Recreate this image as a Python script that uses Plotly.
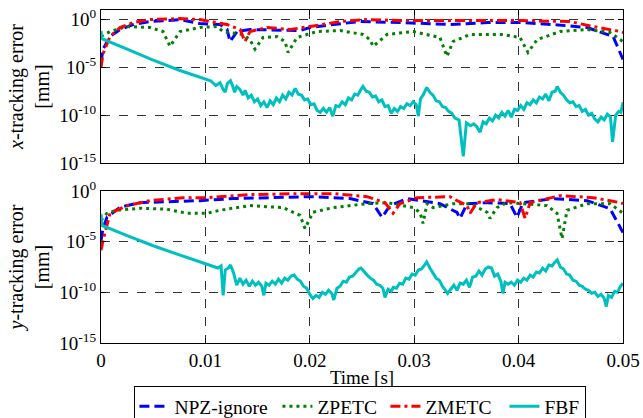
import plotly.graph_objects as go

# ---------------- data (time in s, error given as log10 of value in mm) ----------------
# Top panel: x-tracking error
x_npz_t = [0, 0.00019, 0.00086, 0.00182, 0.00307, 0.00469, 0.00632, 0.00757, 0.00948, 0.0114, 0.01207, 0.01236, 0.01303, 0.01427, 0.01906, 0.02002, 0.02222, 0.02481, 0.02864, 0.03343, 0.03698, 0.04014, 0.0433, 0.04656, 0.04905, 0.05]
x_npz_log = [-4.5, -3.1, -1.77, -1.04, -0.52, -0.21, -0.1, 0.0, -0.42, -0.52, -1.0, -2.3, -1.25, -1.04, -1.15, -0.83, -0.52, -0.21, -0.31, -0.52, -0.31, -0.31, -0.52, -0.83, -1.77, -4.17]

x_zme_t = [0, 0.00019, 0.00086, 0.00182, 0.00307, 0.00469, 0.00757, 0.00948, 0.01207, 0.01332, 0.01379, 0.01427, 0.0159, 0.0181, 0.02002, 0.0229, 0.02548, 0.02864, 0.03343, 0.04014, 0.04493, 0.04713, 0.04972, 0.05]
x_zme_log = [-5.0, -3.6, -1.77, -0.83, -0.31, 0.0, 0.1, 0.0, -0.52, -1.04, -2.3, -1.25, -0.83, -1.04, -0.73, -0.21, 0.0, -0.1, -0.1, -0.1, -0.21, -0.73, -1.25, -1.35]

x_zpe_t = [0, 0.00086, 0.00249, 0.00469, 0.00594, 0.00661, 0.00757, 0.00948, 0.01111, 0.01169, 0.0136, 0.01427, 0.01475, 0.01552, 0.01686, 0.01763, 0.01791, 0.01877, 0.02069, 0.0229, 0.0251, 0.02577, 0.02606, 0.0274, 0.02989, 0.03247, 0.03314, 0.03372, 0.03535, 0.03851, 0.04014, 0.0409, 0.04177, 0.04397, 0.04656, 0.04876, 0.05]
x_zpe_log = [-1.77, -1.25, -0.73, -0.83, -1.25, -2.8, -1.25, -0.83, -0.73, -1.25, -1.56, -2.1, -3.1, -1.88, -1.77, -2.3, -3.44, -1.88, -1.25, -1.15, -1.56, -2.1, -2.8, -1.56, -1.25, -1.88, -3.85, -2.3, -1.56, -1.56, -1.88, -3.44, -2.1, -1.25, -1.04, -1.35, -2.3]

x_fbf_t = [0, 0.0001, 0.0025, 0.005, 0.0075, 0.0095, 0.0105, 0.011, 0.0114, 0.0117, 0.0119, 0.0121, 0.0124, 0.0126, 0.0128, 0.013, 0.0133, 0.0136, 0.0138, 0.0141, 0.0144, 0.0147, 0.015, 0.0153, 0.0156, 0.0159, 0.0162, 0.0165, 0.0168, 0.0171, 0.0174, 0.0177, 0.018, 0.0183, 0.0186, 0.0189, 0.0192, 0.0195, 0.0198, 0.0201, 0.0204, 0.0207, 0.021, 0.0213, 0.0216, 0.0219, 0.0222, 0.0225, 0.0228, 0.0231, 0.0234, 0.0237, 0.024, 0.0243, 0.0246, 0.0249, 0.0251, 0.0254, 0.0257, 0.026, 0.0263, 0.0266, 0.0269, 0.0272, 0.0275, 0.0278, 0.0281, 0.0284, 0.0287, 0.029, 0.0293, 0.0296, 0.0299, 0.0302, 0.0304, 0.0306, 0.0309, 0.0312, 0.0315, 0.0318, 0.0321, 0.0324, 0.0327, 0.033, 0.0333, 0.0336, 0.0339, 0.0343, 0.0347, 0.035, 0.0354, 0.0357, 0.036, 0.0363, 0.0366, 0.0369, 0.0372, 0.0375, 0.0378, 0.0381, 0.0384, 0.0387, 0.039, 0.0393, 0.0396, 0.0399, 0.0402, 0.0405, 0.0408, 0.0411, 0.0414, 0.0417, 0.042, 0.0423, 0.0426, 0.0429, 0.0432, 0.0435, 0.0437, 0.044, 0.0443, 0.0446, 0.0449, 0.0452, 0.0455, 0.0458, 0.0461, 0.0464, 0.0467, 0.047, 0.0473, 0.0476, 0.0479, 0.0482, 0.0485, 0.0488, 0.049, 0.0493, 0.0496, 0.0498, 0.05]
x_fbf_log = [-1.2, -2.0, -3.1, -4.25, -5.3, -6.0, -6.4, -6.9, -6.6, -7.3, -7.6, -6.7, -6.4, -6.9, -7.6, -7.0, -7.3, -7.9, -7.4, -8.2, -7.9, -8.6, -8.3, -9.0, -8.6, -9.2, -8.5, -8.9, -8.2, -8.6, -7.9, -8.3, -7.6, -7.9, -7.2, -7.8, -7.9, -8.4, -8.3, -8.9, -8.8, -9.5, -9.7, -9.3, -9.7, -9.2, -10.1, -9.0, -9.1, -8.6, -8.9, -8.2, -8.4, -7.8, -7.9, -7.3, -7.0, -7.5, -7.6, -8.1, -8.0, -8.6, -8.4, -9.1, -9.0, -9.8, -9.3, -9.6, -9.1, -9.3, -8.8, -9.0, -8.6, -8.9, -10.1, -8.3, -7.8, -7.1, -7.6, -7.9, -8.5, -8.6, -9.1, -9.2, -9.6, -9.8, -10.3, -10.5, -14.3, -10.8, -11.1, -10.9, -11.2, -11.8, -10.7, -10.9, -10.3, -10.6, -10.0, -10.3, -9.7, -10.1, -9.5, -10.2, -9.4, -9.5, -9.0, -9.4, -8.7, -8.9, -8.4, -8.7, -8.1, -8.3, -7.8, -8.5, -7.6, -7.5, -7.0, -7.6, -7.9, -8.4, -8.7, -8.6, -9.1, -9.0, -9.6, -9.4, -10.0, -9.8, -10.4, -10.7, -10.2, -10.5, -9.9, -10.2, -12.8, -10.0, -9.6, -9.7, -8.65]

# Bottom panel: y-tracking error
y_npz_t = [0, 0.00019, 0.00057, 0.00182, 0.00374, 0.00632, 0.00948, 0.01264, 0.0159, 0.02002, 0.02385, 0.02606, 0.02692, 0.02768, 0.02931, 0.03247, 0.0341, 0.03439, 0.03506, 0.03698, 0.03918, 0.03985, 0.04042, 0.0433, 0.04656, 0.04876, 0.05]
y_npz_log = [-4.9, -3.7, -2.6, -1.6, -1.15, -1.05, -0.95, -0.75, -0.66, -0.56, -0.75, -1.25, -2.6, -1.44, -0.75, -1.25, -2.12, -2.7, -1.25, -1.15, -1.25, -2.6, -1.15, -0.75, -0.95, -1.74, -4.1]

y_zme_t = [0, 0.00019, 0.00086, 0.00249, 0.00469, 0.00785, 0.01015, 0.01427, 0.01906, 0.02222, 0.02548, 0.0272, 0.02797, 0.02864, 0.03027, 0.03343, 0.03372, 0.03506, 0.03535, 0.03602, 0.03793, 0.04014, 0.04062, 0.0411, 0.04397, 0.04713, 0.04972, 0.05]
y_zme_log = [-5.85, -4.9, -2.2, -1.44, -0.95, -0.66, -0.66, -0.36, -0.26, -0.26, -0.56, -1.15, -2.2, -1.25, -0.66, -0.56, -0.75, -1.44, -2.2, -1.15, -0.85, -1.15, -2.7, -1.15, -0.46, -0.66, -1.15, -1.25]

y_zpe_t = [0, 0.00057, 0.00153, 0.00374, 0.00632, 0.00824, 0.01015, 0.0114, 0.01427, 0.01743, 0.01906, 0.01954, 0.02031, 0.02222, 0.02548, 0.0274, 0.02989, 0.03056, 0.03084, 0.03123, 0.0318, 0.03372, 0.03535, 0.03698, 0.03726, 0.03793, 0.03889, 0.04014, 0.04272, 0.04368, 0.04416, 0.04464, 0.04656, 0.04876, 0.05]
y_zpe_log = [-2.9, -2.2, -1.9, -1.7, -1.8, -2.2, -2.2, -1.9, -1.44, -1.64, -2.4, -3.7, -2.1, -1.64, -1.25, -1.15, -1.64, -2.1, -3.2, -1.25, -1.64, -1.25, -1.25, -2.1, -2.7, -1.64, -1.15, -1.25, -1.44, -2.2, -4.7, -1.9, -1.25, -1.25, -2.2]

y_fbf_t = [0, 0.0001, 0.0025, 0.005, 0.0075, 0.0095, 0.0105, 0.0112, 0.0115, 0.0117, 0.0119, 0.0122, 0.0124, 0.0127, 0.013, 0.0133, 0.0136, 0.0139, 0.0142, 0.0145, 0.0148, 0.0151, 0.0154, 0.0156, 0.0158, 0.0161, 0.0164, 0.0167, 0.017, 0.0173, 0.0176, 0.0179, 0.0182, 0.0185, 0.0188, 0.0191, 0.0194, 0.0197, 0.02, 0.0203, 0.0206, 0.0209, 0.0212, 0.0215, 0.0218, 0.0221, 0.0223, 0.0226, 0.0229, 0.0232, 0.0235, 0.0238, 0.0241, 0.0244, 0.0247, 0.0249, 0.0252, 0.0255, 0.0258, 0.0261, 0.0264, 0.0267, 0.027, 0.0272, 0.0275, 0.0278, 0.028, 0.0283, 0.0286, 0.0289, 0.0292, 0.0295, 0.0298, 0.0301, 0.0304, 0.0307, 0.031, 0.0312, 0.0315, 0.0318, 0.0321, 0.0324, 0.0327, 0.033, 0.0332, 0.0335, 0.0338, 0.0341, 0.0344, 0.0347, 0.035, 0.0353, 0.0356, 0.0359, 0.0362, 0.0365, 0.0368, 0.0371, 0.0374, 0.0377, 0.038, 0.0383, 0.0385, 0.0387, 0.039, 0.0393, 0.0396, 0.0399, 0.0402, 0.0405, 0.0408, 0.0411, 0.0414, 0.0417, 0.042, 0.0423, 0.0426, 0.0429, 0.0432, 0.0435, 0.0437, 0.044, 0.0443, 0.0446, 0.0449, 0.0452, 0.0455, 0.0458, 0.0461, 0.0464, 0.0467, 0.047, 0.0473, 0.0476, 0.0479, 0.0482, 0.0484, 0.0486, 0.0489, 0.0492, 0.0495, 0.0497, 0.05]
y_fbf_log = [-2.25, -3.4, -4.4, -5.4, -6.3, -7.0, -7.3, -7.6, -7.4, -10.3, -7.8, -7.6, -7.3, -8.1, -9.3, -8.6, -9.2, -8.8, -9.4, -8.9, -9.3, -9.0, -9.4, -10.3, -9.1, -9.3, -8.9, -9.2, -8.7, -9.1, -8.6, -8.8, -8.4, -8.3, -8.7, -8.9, -9.4, -9.6, -10.2, -10.6, -10.3, -10.5, -10.0, -10.2, -9.8, -10.1, -10.75, -9.6, -9.4, -8.9, -9.0, -8.5, -8.4, -8.0, -7.7, -7.6, -8.0, -8.3, -8.6, -8.8, -9.2, -9.3, -9.6, -10.5, -9.7, -9.9, -9.5, -9.6, -9.1, -9.2, -8.6, -8.7, -8.2, -8.3, -7.8, -7.7, -7.3, -7.0, -7.6, -8.1, -8.6, -8.8, -9.4, -9.8, -10.1, -9.7, -9.3, -9.8, -9.1, -9.2, -8.8, -9.5, -8.5, -8.4, -7.9, -8.3, -7.7, -7.5, -7.6, -8.4, -8.2, -8.9, -10.1, -9.0, -9.2, -9.0, -9.3, -8.8, -9.0, -8.6, -8.8, -8.3, -8.5, -8.0, -8.1, -7.6, -7.9, -7.3, -7.4, -7.0, -6.8, -7.5, -7.7, -8.2, -8.3, -8.8, -8.9, -9.3, -9.4, -9.7, -9.8, -10.1, -10.0, -10.4, -10.2, -10.6, -11.4, -10.3, -10.5, -9.9, -10.0, -9.5, -9.1]

series_names = ["NPZ-ignore", "ZPETC", "ZMETC", "FBF"]
x_tick_vals = [0, 0.01, 0.02, 0.03, 0.04, 0.05]
x_tick_text = ["0", "0.01", "0.02", "0.03", "0.04", "0.05"]
y_tick_exp = [-15, -10, -5, 0]

# ---------------- styling ----------------
FONT = "Liberation Serif"
styles = {
    "NPZ-ignore": dict(color="#0000FF", width=3, dash="10px,5px"),
    "ZPETC": dict(color="#008000", width=3, dash="3px,4px"),
    "ZMETC": dict(color="#FF0000", width=3, dash="10px,4px,3px,4px"),
    "FBF": dict(color="#00BFBF", width=3, dash="solid"),
}
legend_widths = {"NPZ-ignore": 98, "ZPETC": 63, "ZMETC": 74, "FBF": 36}

def pw(logs):
    return [10 ** v for v in logs]

top = {"NPZ-ignore": (x_npz_t, x_npz_log), "ZPETC": (x_zpe_t, x_zpe_log),
       "ZMETC": (x_zme_t, x_zme_log), "FBF": (x_fbf_t, x_fbf_log)}
bot = {"NPZ-ignore": (y_npz_t, y_npz_log), "ZPETC": (y_zpe_t, y_zpe_log),
       "ZMETC": (y_zme_t, y_zme_log), "FBF": (y_fbf_t, y_fbf_log)}

fig = go.Figure()
for name in series_names:
    t, l = top[name]
    fig.add_trace(go.Scatter(x=t, y=pw(l), mode="lines", name=name, line=styles[name],
                             xaxis="x", yaxis="y", showlegend=True, legendgroup=name,
                             legendwidth=legend_widths[name]))
for name in series_names:
    t, l = bot[name]
    fig.add_trace(go.Scatter(x=t, y=pw(l), mode="lines", name=name, line=styles[name],
                             xaxis="x2", yaxis="y2", showlegend=False, legendgroup=name))

ytv = [10 ** e for e in y_tick_exp]
ytt = ["10<sup>%d</sup>" % e for e in y_tick_exp]

common_x = dict(range=[0, 0.05], tickvals=x_tick_vals, ticktext=x_tick_text,
                showgrid=True, gridcolor="#333333", griddash="dash", gridwidth=1,
                showline=True, linecolor="black", linewidth=1.2, mirror="ticks",
                ticks="inside", ticklen=5, tickcolor="black", zeroline=False,
                automargin=False, ticklabeloverflow="allow",
                tickfont=dict(family=FONT, size=19, color="black"))
common_y = dict(type="log", tickvals=ytv, ticktext=ytt,
                showgrid=True, gridcolor="#333333", griddash="dash", gridwidth=1,
                showline=True, linecolor="black", linewidth=1.2, mirror="ticks",
                ticks="inside", ticklen=5, tickcolor="black", zeroline=False,
                automargin=False, ticklabeloverflow="allow",
                tickfont=dict(family=FONT, size=19, color="black"))

W, H = 643, 418
t_m, b_m = 10, 75
ph = H - t_m - b_m
top_dom = [(343 - 163) / ph, 1.0]
bot_dom = [0.0, (343 - 191) / ph]

fig.update_layout(
    width=W, height=H,
    margin=dict(l=101, r=20, t=t_m, b=b_m, autoexpand=False),
    paper_bgcolor="white", plot_bgcolor="white",
    font=dict(family=FONT, size=19, color="black"),
    xaxis=dict(**common_x, domain=[0, 1], anchor="y", showticklabels=False),
    yaxis=dict(**common_y, domain=top_dom, anchor="x", range=[-15, 1],
               title=dict(text="<i>x</i>-tracking error<br>[mm]", standoff=4,
                          font=dict(family=FONT, size=20))),
    xaxis2=dict(**common_x, domain=[0, 1], anchor="y2",
                title=dict(text="Time [s]", standoff=0, font=dict(family=FONT, size=19))),
    yaxis2=dict(**common_y, domain=bot_dom, anchor="x2", range=[-15, 0],
                title=dict(text="<i>y</i>-tracking error<br>[mm]", standoff=4,
                           font=dict(family=FONT, size=20))),
    legend=dict(orientation="h", x=0.497, xanchor="center", y=-0.129, yanchor="top",
                bordercolor="black", borderwidth=1, bgcolor="white",
                font=dict(family=FONT, size=19.5), itemwidth=30, tracegroupgap=0),
)

# remove the browser's default 8px body margin so the figure sits at the page origin
fig.write_html("out.html", config={"displayModeBar": False},
               post_script="document.body.style.margin='0px';")
